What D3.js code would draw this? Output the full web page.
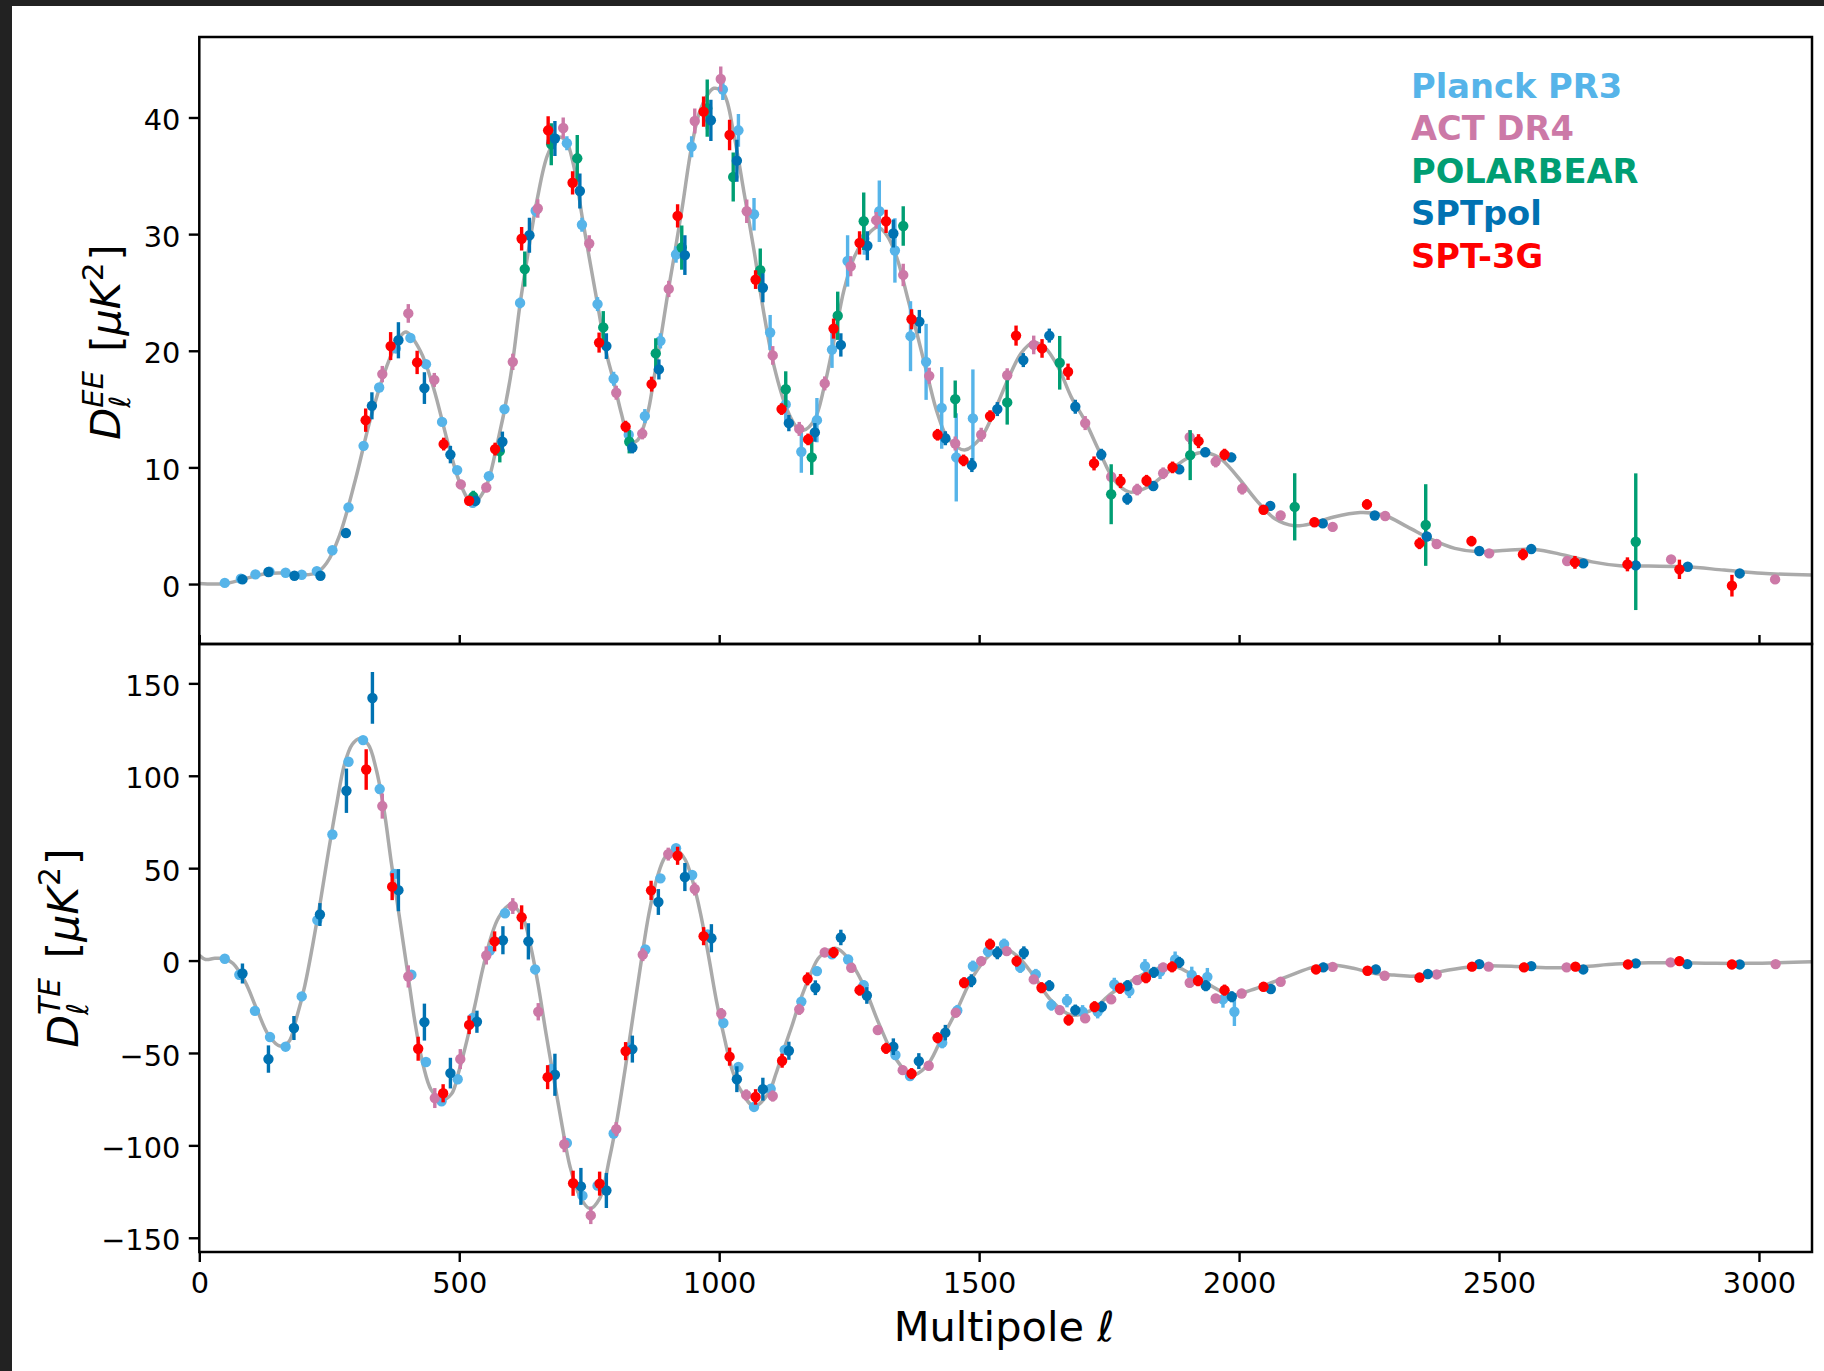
<!DOCTYPE html>
<html>
<head>
<meta charset="utf-8">
<script src="https://cdn.jsdelivr.net/npm/d3@7"></script>
<style>
  html, body { margin: 0; padding: 0; background: #222222; }
  svg { display: block; }
  text { font-family: "DejaVu Sans", sans-serif; }
</style>
</head>
<body>
<svg id="chart" width="1824" height="1371"></svg>
<script>
// ---- Data: [multipole, D_ell, 1-sigma] ----
const eePlanck = [[49,0.1,0.1],[80,0.45,0.1],[108,0.83,0.1],[135,1.05,0.1],[166,0.97,0.1],[197,0.8,0.1],[226,1.11,0.1],[256,2.9,0.15],[287,6.57,0.2],[316,11.85,0.25],[346,16.85,0.3],[378,20.2,0.35],[406,21.1,0.35],[436,18.85,0.35],[467,13.9,0.3],[496,9.77,0.3],[526,6.97,0.3],[557,9.25,0.3],[587,15.0,0.35],[617,24.1,0.45],[647,32.0,0.5],[677,37.9,0.55],[707,37.8,0.6],[736,30.8,0.6],[766,24.0,0.6],[797,17.6,0.6],[826,12.8,0.6],[857,14.4,0.6],[887,20.85,0.65],[917,28.25,0.7],[947,37.5,0.9],[977,40.0,1.0],[1007,42.4,0.9],[1037,38.9,1.4],[1067,31.7,1.4],[1098,21.57,1.5],[1128,15.4,1.5],[1158,11.34,1.8],[1188,14.05,1.9],[1217,20.1,1.57],[1247,27.7,2.2],[1279,29.6,1.36],[1308,31.96,2.64],[1338,28.6,2.76],[1368,21.25,3.0],[1398,19.05,3.26],[1428,15.1,3.5],[1456,10.86,3.78],[1488,14.2,4.2]];
const eeACT = [[352,18.0,0.7],[402,23.2,0.8],[452,17.5,0.6],[503,8.54,0.4],[552,8.28,0.4],[603,19.05,0.7],[651,32.2,0.8],[700,39.1,0.9],[750,29.2,0.7],[802,16.4,0.6],[852,12.9,0.5],[903,25.3,0.7],[953,39.7,1.07],[1003,43.3,1.07],[1053,31.96,1.0],[1103,19.6,0.8],[1154,13.3,0.6],[1203,17.2,0.6],[1253,27.25,0.86],[1302,31.2,0.7],[1354,26.5,0.96],[1404,17.85,0.7],[1454,12.05,0.6],[1504,12.8,0.6],[1554,17.9,0.6],[1605,20.5,0.8],[1704,13.8,0.6],[1754,9.2,0.5],[1804,8.1,0.5],[1854,9.5,0.5],[1905,12.6,0.6],[1955,10.5,0.5],[2006,8.17,0.5],[2080,5.88,0.4],[2180,4.9,0.4],[2281,5.83,0.4],[2380,3.43,0.4],[2481,2.63,0.35],[2631,1.97,0.35],[2831,2.11,0.35],[3031,0.4,0.35]];
const eePolarbear = [[527,7.5,0.5],[578,11.4,0.97],[626,27.0,1.5],[677,37.7,1.8],[727,36.5,2.0],[777,22.0,1.4],[827,12.2,1.0],[878,19.77,1.3],[928,28.85,1.9],[977,40.8,2.45],[1027,34.9,2.1],[1079,26.9,1.86],[1128,16.7,1.54],[1178,10.86,1.5],[1228,23.0,2.07],[1278,31.1,2.46],[1354,30.7,1.7],[1454,15.85,1.6],[1554,15.57,1.9],[1655,18.97,2.3],[1754,7.7,2.57],[1906,11.05,2.14],[2107,6.62,2.88],[2359,5.06,3.5],[2763,3.63,5.86]];
const eeSPTpol = [[83,0.4,0.1],[133,1.03,0.1],[183,0.71,0.1],[233,0.71,0.15],[282,4.37,0.2],[332,15.28,1.16],[383,20.9,1.55],[433,16.8,1.36],[483,11.1,0.75],[531,7.14,0.4],[583,12.2,0.87],[635,29.9,1.5],[684,38.2,1.5],[732,33.7,1.5],[783,20.4,1.1],[833,11.7,0.5],[884,18.4,0.86],[934,28.2,1.7],[984,39.76,1.77],[1034,36.3,1.8],[1084,25.4,1.24],[1134,13.8,0.7],[1184,13.0,0.8],[1234,20.5,1.0],[1285,29.0,1.24],[1335,30.05,1.2],[1385,22.5,1.0],[1435,12.5,0.6],[1486,10.2,0.6],[1535,15.0,0.6],[1585,19.2,0.6],[1635,21.3,0.6],[1685,15.2,0.6],[1735,11.1,0.5],[1785,7.3,0.5],[1835,8.4,0.4],[1885,9.83,0.4],[1935,11.3,0.4],[1985,10.86,0.4],[2060,6.7,0.4],[2161,5.2,0.3],[2261,5.88,0.3],[2361,4.08,0.3],[2462,2.83,0.3],[2562,3.0,0.3],[2662,1.77,0.3],[2763,1.6,0.3],[2863,1.48,0.3],[2963,0.91,0.3]];
const eeSPT3G = [[320,14.05,1.0],[368,20.4,1.2],[419,19.0,1.0],[470,12.0,0.55],[519,7.14,0.4],[569,11.57,0.55],[620,29.6,1.0],[671,38.9,1.2],[718,34.4,1.0],[769,20.7,0.86],[820,13.5,0.5],[870,17.14,0.64],[920,31.56,1.0],[970,40.5,1.3],[1020,38.5,1.3],[1070,26.1,0.8],[1120,15.0,0.5],[1171,12.4,0.5],[1220,21.9,0.86],[1270,29.25,1.0],[1321,31.1,1.0],[1370,22.7,0.86],[1420,12.8,0.5],[1470,10.6,0.5],[1521,14.4,0.5],[1571,21.3,0.86],[1621,20.2,0.8],[1671,18.2,0.7],[1721,10.34,0.6],[1772,8.83,0.6],[1822,8.86,0.5],[1872,10.0,0.5],[1922,12.25,0.6],[1972,11.1,0.5],[2047,6.37,0.4],[2145,5.3,0.4],[2246,6.83,0.45],[2347,3.49,0.5],[2447,3.68,0.45],[2546,2.54,0.5],[2646,1.86,0.55],[2747,1.69,0.6],[2847,1.26,0.83],[2948,-0.14,0.93]];

const tePlanck = [[49,1.0,1.5],[77,-7.7,1.5],[107,-27.2,1.5],[136,-41.4,1.5],[166,-46.6,1.5],[197,-19.4,1.5],[227,21.9,1.5],[256,68.2,1.5],[287,107.6,1.5],[315,119.3,1.5],[347,92.8,1.5],[376,46.9,1.5],[408,-7.7,1.5],[436,-54.9,1.5],[466,-76.1,1.5],[497,-64.2,1.5],[526,-31,1.5],[559,5.4,1.5],[588,25.6,1.5],[646,-4.8,1.5],[677,-58.7,1.5],[707,-98.7,1.5],[737,-127.2,1.5],[766,-121.8,1.5],[797,-93.6,1.5],[827,-47.2,1.5],[858,6,2],[887,44.5,2],[917,60.8,2],[948,46.3,2],[978,14.1,2],[1008,-33.8,2],[1037,-57.5,2],[1067,-79.2,2],[1099,-69.4,2],[1126,-48.3,2],[1158,-22.2,2.5],[1188,-5.7,2.5],[1217,3.4,2.5],[1248,0.6,2.5],[1278,-13.3,2.5],[1339,-51.1,2.5],[1367,-62.5,2.5],[1429,-44.5,3],[1458,-27,3],[1488,-3,3],[1517,5,3],[1548,8.9,3],[1579,-3.7,3],[1609,-7.5,3],[1639,-24.1,3],[1669,-21.7,3.6],[1699,-27.7,3.6],[1728,-27.7,3.6],[1760,-12.9,3.6],[1789,-16.5,3.8],[1819,-3,3.8],[1848,-6,4],[1877,0.6,4.3],[1909,-7.8,4.5],[1939,-8.8,4.8],[1969,-21,4.5],[1991,-27.7,7.7]];
const teACT = [[352,83.6,6.8],[402,-8.6,6],[453,-74.4,5.4],[502,-53.3,5.4],[552,2.76,4.9],[603,29.5,4.3],[652,-27.7,4.7],[702,-99.4,4.3],[753,-137.9,4.7],[802,-91.2,3.8],[853,3.2,3.5],[902,57.6,3.5],[953,38.7,3.5],[1004,-28.7,3],[1052,-72.7,3],[1103,-73.3,3],[1154,-26.4,3],[1203,4.4,2.5],[1254,-3.9,2.5],[1305,-37.6,2.5],[1353,-59.3,2.5],[1403,-56.9,2.5],[1455,-28.2,2.5],[1504,-0.3,2.5],[1553,5.1,2.5],[1605,-10.2,2.5],[1655,-26.8,2.5],[1704,-31.3,2.5],[1754,-21,2.5],[1804,-10.6,2.5],[1854,-3.7,2.5],[1905,-12,2.5],[1955,-20.5,2.5],[2005,-17.8,2.5],[2080,-11.5,2],[2180,-3.4,2],[2280,-8.2,2],[2380,-7.5,2],[2480,-3.3,2],[2630,-3.7,2],[2830,-1,2],[3032,-1.9,2]];
const teSPTpol = [[83,-7,5.4],[133,-53.3,7.4],[182,-36.5,6.5],[232,24.9,6.2],[283,91.9,12],[333,142.1,14],[383,38.1,11.4],[433,-33.3,10],[483,-60.9,8.3],[534,-33.1,6],[584,11,7.6],[633,10.4,9.8],[684,-61.8,11.4],[734,-122.2,10],[783,-124.4,9.5],[833,-47.9,7.3],[883,31.7,7],[934,45.2,7.6],[985,12.1,7.6],[1034,-64.2,7],[1084,-69.6,6.2],[1134,-48.8,4.9],[1185,-14.7,4],[1234,12.5,4.2],[1284,-18.9,4.5],[1335,-46.6,4.5],[1384,-54.4,4.3],[1435,-39,4.2],[1485,-10.9,3.5],[1535,4.2,3.5],[1586,4.2,3.5],[1635,-13.6,3],[1685,-26.8,3],[1736,-25,3],[1785,-13.6,3],[1836,-6.4,3],[1885,-1,3],[1936,-13.6,3],[1986,-19.6,3],[2061,-15.4,2.5],[2162,-3.7,2.5],[2263,-4.8,2.5],[2363,-7.3,2],[2462,-1.9,2],[2562,-3,2],[2662,-4.8,2],[2763,-1.5,2],[2862,-1.9,2],[2963,-2.1,2]];
const teSPT3G = [[321,103.4,11],[371,40,7.3],[421,-47.7,6.5],[469,-71.8,4.9],[519,-34.8,5],[568,10.4,5.4],[620,23.4,6.5],[670,-63.1,6.5],[719,-120.5,6.8],[770,-120.7,6.5],[820,-49,4.9],[869,38,5.2],[920,56.7,4.9],[970,13.2,4.9],[1020,-52,4.9],[1070,-73.8,4.2],[1121,-54.2,3.8],[1170,-9.9,3.5],[1220,4.4,3],[1270,-16,3],[1321,-47.5,3],[1370,-61.2,3],[1420,-41.8,3],[1471,-12,3],[1521,8.9,3],[1572,-0.3,3],[1620,-14.7,3],[1672,-32.2,3],[1722,-25,3],[1771,-15,3],[1821,-9.3,3],[1871,-3.4,3],[1921,-10.9,3],[1972,-16,3],[2047,-14.2,2.5],[2148,-4.8,2.5],[2247,-5.5,2.5],[2347,-9.2,2.5],[2448,-3.3,2.5],[2548,-3.7,2.5],[2647,-3.3,2.5],[2748,-2.1,2.5],[2847,-0.3,2.5],[2948,-2.1,2.5]];

// best-fit model spectra: [multipole, D_ell]
const eeModel = [[0,0.05],[50,0.05],[100,0.6],[130,0.9],[160,0.95],[200,0.8],[225,0.95],[245,1.8],[270,4.2],[300,8.9],[330,14.3],[360,18.6],[386,21.2],[398,21.6],[425,20.0],[450,16.9],[480,11.8],[502,8.6],[526,6.9],[550,8.2],[573,12.0],[598,17.6],[617,24.0],[632,28.3],[650,33.0],[670,36.8],[690,38.3],[705,38.0],[720,35.9],[736,31.6],[750,28.0],[766,24.0],[782,20.0],[797,17.4],[812,14.6],[829,12.2],[842,12.3],[862,14.6],[874,17.5],[887,20.9],[900,24.6],[913,28.0],[929,32.3],[947,37.5],[965,40.8],[990,42.5],[1009,42.0],[1028,38.6],[1048,33.5],[1067,28.6],[1086,23.2],[1106,18.6],[1131,14.9],[1150,13.4],[1163,13.2],[1183,14.05],[1202,16.9],[1221,20.9],[1240,25.2],[1260,28.05],[1285,29.9],[1305,30.6],[1324,29.8],[1343,27.8],[1362,24.6],[1382,21.2],[1401,17.8],[1420,14.6],[1440,12.5],[1472,11.5],[1504,12.6],[1530,14.9],[1555,17.5],[1581,19.8],[1603,20.7],[1626,20.3],[1652,18.6],[1677,16.05],[1703,14.05],[1733,11.2],[1760,8.9],[1788,7.9],[1824,8.3],[1860,9.5],[1897,10.7],[1924,11.25],[1960,10.9],[1997,9.2],[2033,7.2],[2069,5.6],[2106,5.0],[2142,5.2],[2178,5.7],[2233,6.14],[2279,5.9],[2324,4.9],[2370,3.83],[2415,3.06],[2460,2.77],[2515,2.9],[2569,2.97],[2624,2.5],[2679,1.9],[2733,1.57],[2788,1.54],[2860,1.48],[2933,1.2],[3006,0.92],[3102,0.77]];
const teModel = [[0,2.8],[12,0.6],[30,1.2],[49,1.0],[65,-1.6],[88,-11.4],[111,-26.6],[134,-40.7],[155,-46.2],[172,-44],[187,-31],[203,-13.5],[218,8.2],[233,32.1],[248,58.2],[264,84.3],[279,106],[294,116.9],[309,120.2],[325,116.9],[340,103.8],[355,82.1],[370,51.7],[385,23.4],[401,-7],[416,-35.3],[431,-57],[446,-70],[465,-75.5],[485,-72.2],[500,-59.2],[515,-42.9],[530,-24.4],[545,-4.8],[561,12.6],[576,23.4],[599,30.4],[622,23.4],[637,8.2],[652,-13.5],[667,-39.6],[683,-65.7],[698,-89.6],[713,-111.4],[732,-127.6],[751,-134.2],[770,-128.8],[789,-107],[804,-85.3],[820,-57],[835,-28.7],[850,-0.5],[865,25.6],[881,45.2],[896,56],[915,60.4],[934,54.9],[949,43],[964,25.6],[980,1.7],[995,-22.2],[1010,-41.8],[1025,-59.2],[1041,-70],[1067,-78.8],[1094,-72.2],[1109,-61.4],[1124,-48.3],[1140,-35.3],[1155,-22.2],[1174,-8.7],[1193,2],[1225,6.6],[1248,1.2],[1276,-12.3],[1307,-34],[1339,-52.9],[1370,-62],[1398,-57.5],[1425,-43.9],[1457,-26.8],[1488,-8.7],[1520,3],[1547,6.6],[1575,2],[1606,-8.7],[1638,-21.4],[1677,-29.5],[1716,-26.8],[1755,-17.7],[1795,-10.6],[1834,-5.1],[1873,-3],[1905,-6.9],[1944,-13.3],[1984,-18.7],[2023,-16],[2062,-12],[2101,-7.8],[2141,-3.7],[2180,-2.4],[2220,-4.2],[2259,-6.9],[2298,-7.8],[2339,-8.4],[2371,-6.9],[2403,-5.1],[2448,-3.3],[2480,-2.8],[2544,-3.3],[2608,-3.9],[2660,-3.3],[2724,-1.9],[2788,-1.2],[2853,-1.2],[2917,-1.5],[2981,-1.5],[3102,-0.6]];

const xTicks = [0, 500, 1000, 1500, 2000, 2500, 3000];
const eeTicks = [0, 10, 20, 30, 40];
const teTicks = [-150, -100, -50, 0, 50, 100, 150];

const experiments = ["Planck PR3", "ACT DR4", "POLARBEAR", "SPTpol", "SPT-3G"];
const colors = ["#56B4E9", "#CC79A7", "#009E73", "#0072B2", "#FF0000"];
const eeSets = [eePlanck, eeACT, eePolarbear, eeSPTpol, eeSPT3G];
const teSets = [tePlanck, teACT, [], teSPTpol, teSPT3G];

(function () {
  // ---- Layout ----
  const svg = d3.select("#chart");
  svg.append("rect").attr("x", 12).attr("y", 6).attr("width", 1812).attr("height", 1365).attr("fill", "#ffffff");

  const pL = 199.3, pR = 1812, pT = 37, pM = 644, pB = 1252;
  const x = d3.scaleLinear().domain([0, 3102]).range([pL, pR]);
  const yEE = d3.scaleLinear().domain([-5.14, 46.9]).range([pM, pT]);
  const yTE = d3.scaleLinear().domain([-157.7, 171.3]).range([pB, pM]);

  const defs = svg.append("defs");
  defs.append("clipPath").attr("id", "clipEE").append("rect")
    .attr("x", pL).attr("y", pT).attr("width", pR - pL).attr("height", pM - pT);
  defs.append("clipPath").attr("id", "clipTE").append("rect")
    .attr("x", pL).attr("y", pM).attr("width", pR - pL).attr("height", pB - pM);

  function drawPanel(y, model, sets, clipId) {
    const g = svg.append("g").attr("clip-path", `url(#${clipId})`);
    const line = d3.line().x(d => x(d[0])).y(d => y(d[1])).curve(d3.curveCatmullRom.alpha(0.5));
    g.append("path").datum(model).attr("d", line)
      .attr("fill", "none").attr("stroke", "#aaaaaa").attr("stroke-width", 3.5);
    sets.forEach((data, i) => {
      const s = g.append("g");
      s.selectAll("line").data(data).join("line")
        .attr("x1", d => x(d[0])).attr("x2", d => x(d[0]))
        .attr("y1", d => y(d[1] - d[2])).attr("y2", d => y(d[1] + d[2]))
        .attr("stroke", colors[i]).attr("stroke-width", 3.4);
      s.selectAll("circle").data(data).join("circle")
        .attr("cx", d => x(d[0])).attr("cy", d => y(d[1])).attr("r", 5.2)
        .attr("fill", colors[i]);
    });
  }
  drawPanel(yEE, eeModel, eeSets, "clipEE");
  drawPanel(yTE, teModel, teSets, "clipTE");

  // ---- Axes ----
  const tickFont = 28.8;
  function styleAxis(g) {
    g.select(".domain").remove();
    g.selectAll(".tick line").attr("stroke", "#000").attr("stroke-width", 2.4);
    g.selectAll(".tick text").attr("fill", "#000").attr("font-size", tickFont)
      .attr("font-family", "DejaVu Sans, sans-serif");
  }
  const gyEE = svg.append("g").attr("transform", `translate(${pL},0)`)
    .call(d3.axisLeft(yEE).tickValues(eeTicks).tickSize(10.5).tickPadding(8.5).tickSizeOuter(0));
  styleAxis(gyEE);
  gyEE.selectAll(".tick text").attr("dy", "0.42em");

  const gyTE = svg.append("g").attr("transform", `translate(${pL},0)`)
    .call(d3.axisLeft(yTE).tickValues(teTicks).tickSize(10.5).tickPadding(8.5).tickSizeOuter(0));
  styleAxis(gyTE);
  gyTE.selectAll(".tick text").attr("dy", "0.42em");

  const gx = svg.append("g").attr("transform", `translate(0,${pB})`)
    .call(d3.axisBottom(x).tickValues(xTicks).tickSize(10).tickPadding(10.6).tickSizeOuter(0).tickFormat(d3.format("d")));
  styleAxis(gx);

  // tick marks along the shared boundary between the panels
  const gxMid = svg.append("g").attr("transform", `translate(0,${pM})`)
    .call(d3.axisTop(x).tickValues(xTicks).tickSize(9).tickSizeOuter(0).tickFormat(""));
  styleAxis(gxMid);

  // frames
  [[pT, pM], [pM, pB]].forEach(([t, b]) => {
    svg.append("rect").attr("x", pL).attr("y", t).attr("width", pR - pL).attr("height", b - t)
      .attr("fill", "none").attr("stroke", "#000").attr("stroke-width", 2.5);
  });

  // ---- Axis labels ----
  svg.append("text").attr("x", 1004).attr("y", 1341).attr("text-anchor", "middle")
    .attr("font-size", 41.5).attr("fill", "#000")
    .call(t => {
      t.append("tspan").text("Multipole ");
      t.append("tspan").attr("font-style", "italic").text("ℓ");
    });

  function mathLabel(cy, baselineX, sup, fs) {
    const g = svg.append("g");
    const pieces = [
      { t: "D", it: true, s: 1, dy: 0 },
      { stack: [{ t: sup, it: true, s: 0.7, dy: -0.42 }, { t: "ℓ", it: true, s: 0.7, dy: 0.24 }] },
      { t: "\u00a0[", it: false, s: 1, dy: 0, gap: 3 },
      { t: "μK", it: true, s: 1, dy: 0 },
      { t: "2", it: false, s: 0.7, dy: -0.42, gap: 1 },
      { t: "]", it: false, s: 1, dy: 0, gap: 2 }
    ];
    let px = 0;
    const put = (p, at) => {
      const el = g.append("text").attr("x", at).attr("y", p.dy * fs)
        .attr("font-size", fs * p.s).attr("font-style", p.it ? "italic" : "normal")
        .attr("fill", "#000").text(p.t);
      return el.node().getComputedTextLength();
    };
    pieces.forEach(p => {
      if (p.stack) {
        const w = p.stack.map(q => put(q, px));
        px += Math.max(...w) + 3;
      } else {
        px += (p.gap || 0);
        px += put(p, px);
      }
    });
    g.attr("transform", `translate(${baselineX},${cy}) rotate(-90) translate(${-px / 2},0)`);
  }
  mathLabel(342, 120, "EE", 41.5);
  mathLabel(948, 78, "TE", 42.5);

  // ---- Legend (coloured labels) ----
  const legend = svg.append("g");
  experiments.forEach((name, i) => {
    legend.append("text").attr("x", 1411).attr("y", 98 + i * 42.4)
      .attr("font-size", 33.7).attr("font-weight", "bold").attr("fill", colors[i]).text(name);
  });
})();
</script>
</body>
</html>
